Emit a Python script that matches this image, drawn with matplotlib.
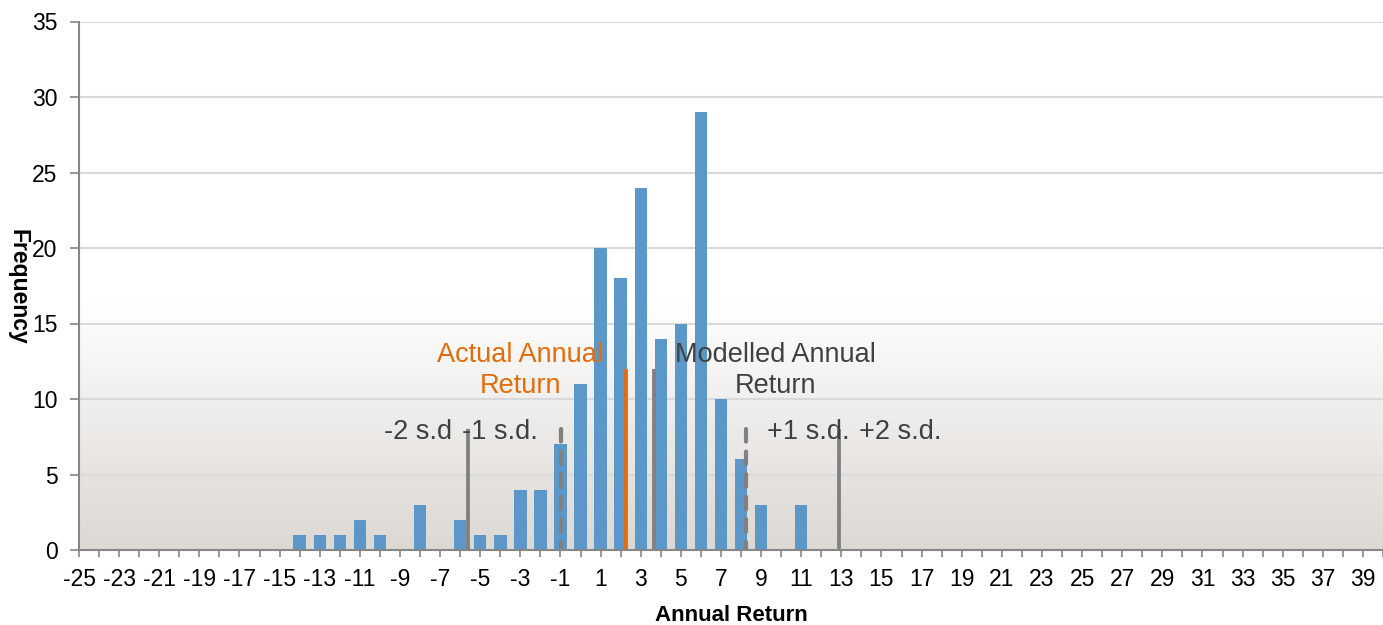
import numpy as np
import matplotlib
matplotlib.use("Agg")
import matplotlib.pyplot as plt

plt.rcParams['font.family'] = ['Liberation Sans', 'DejaVu Sans']

# ---- data ----
returns = list(range(-25, 41))
freq_map = {-14: 1, -13: 1, -12: 1, -11: 2, -10: 1, -9: 0, -8: 3, -7: 0, -6: 2,
            -5: 1, -4: 1, -3: 4, -2: 4, -1: 7, 0: 11, 1: 20, 2: 18, 3: 24, 4: 14,
            5: 15, 6: 29, 7: 10, 8: 6, 9: 3, 10: 0, 11: 3}
frequency = [freq_map.get(r, 0) for r in returns]

actual_return = 2.25
modelled_return = 3.65
sd = 4.62
sd_lines = [modelled_return - 2 * sd, modelled_return - sd, modelled_return + sd, modelled_return + 2 * sd]
sd_styles = ['solid', 'dashed', 'dashed', 'solid']
sd_labels = ['-2 s.d', '-1 s.d.', '+1 s.d.', '+2 s.d.']
sd_label_x = [-8.1, -4.0, 11.35, 15.95]
marker_height_mean = 12
marker_height_sd = 8

x_tick_labels = [str(r) if r % 2 != 0 else '' for r in returns]
y_ticks = [0, 5, 10, 15, 20, 25, 30, 35]

# ---- figure ----
fig = plt.figure(figsize=(13.83, 6.25), dpi=100)
ax = fig.add_axes([79 / 1383, 1 - 550 / 625, 1 - 79 / 1383, (550 - 21.5) / 625])

# background gradient (white top -> warm gray bottom)
n = 400
yy = np.linspace(0, 35, n)
t = np.clip((16.5 - yy) / 16.5, 0, 1)
top = np.array([1.0, 1.0, 1.0])
bot = np.array([220, 216, 211]) / 255.0
grad = top[None, :] * (1 - t[:, None]) + bot[None, :] * t[:, None]
ax.imshow(grad[:, None, :], extent=[-25, 40, 0, 35], origin='lower', aspect='auto', zorder=0)

ax.set_xlim(-25, 40)
ax.set_ylim(0, 35)

for yv in y_ticks[1:]:
    ax.axhline(yv, color='#D9D9D9', lw=1.5, zorder=1)

ax.bar(returns, frequency, width=0.62, color='#5B97C9', zorder=2)

lw = 3.8 * 72 / 100
ax.vlines(actual_return, 0, marker_height_mean, color='#E36C0A', lw=lw, zorder=4)
ax.vlines(modelled_return, 0, marker_height_mean, color='#808080', lw=lw, zorder=4)
for xv, st in zip(sd_lines, sd_styles):
    if st == 'dashed':
        ax.plot([xv, xv], [marker_height_sd, 0], color='#808080', lw=lw * 1.1, zorder=4,
                dashes=(3.0, 2.4), dash_capstyle='round')
    else:
        ax.vlines(xv, 0, marker_height_sd, color='#808080', lw=lw, zorder=4)

ax.text(-3.0, 11.9, 'Actual Annual\nReturn', color='#E36C0A', fontsize=19.5,
        ha='center', va='center', multialignment='center', linespacing=1.22, zorder=5)
ax.text(9.7, 11.9, 'Modelled Annual\nReturn', color='#404040', fontsize=19.5,
        ha='center', va='center', multialignment='center', linespacing=1.22, zorder=5)
for lx, lab in zip(sd_label_x, sd_labels):
    ax.text(lx, 7.8, lab, color='#404040', fontsize=19.5, ha='center', va='center', zorder=5)

ax.set_xticks(returns)
ax.set_xticklabels(x_tick_labels, fontsize=16.5)
ax.set_yticks(y_ticks)
ax.set_yticklabels([str(v) for v in y_ticks], fontsize=16.5)
ax.tick_params(axis='x', direction='out', length=5, width=1.2, color='#868686', pad=8)
ax.tick_params(axis='y', direction='out', length=6.5, width=1.2, color='#868686', pad=9)

for s in ['top', 'right']:
    ax.spines[s].set_visible(False)
for s in ['left', 'bottom']:
    ax.spines[s].set_color('#868686')
    ax.spines[s].set_linewidth(1.5)
    ax.spines[s].set_zorder(6)

ax.set_xlabel('Annual Return', fontsize=16, fontweight='bold', labelpad=10)
fig.text(18 / 1383, 1 - 287 / 625, 'Frequency', rotation=270, fontsize=16.5,
         fontweight='bold', ha='center', va='center')

fig.savefig('out.png', dpi=100)
